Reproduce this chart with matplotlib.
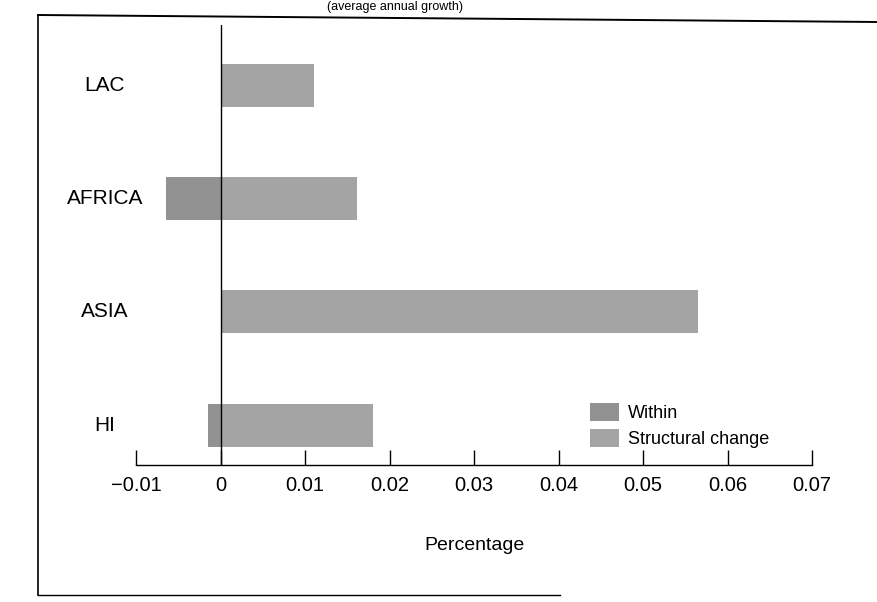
import numpy as np
import matplotlib
matplotlib.use("Agg")
import matplotlib.pyplot as plt
from matplotlib.lines import Line2D
from matplotlib.patches import Patch

plt.rcParams['font.family'] = ['Liberation Sans', 'DejaVu Sans']

# data (fractions, stacked horizontally)
regions = ['HI', 'ASIA', 'AFRICA', 'LAC']
within = [-0.0015, 0.0, -0.0064, 0.0]
structural = [0.0180, 0.0565, 0.0162, 0.0111]
xticks = [-0.01, 0, 0.01, 0.02, 0.03, 0.04, 0.05, 0.06, 0.07]
xticklabels = ['\u22120.01', '0', '0.01', '0.02', '0.03', '0.04', '0.05', '0.06', '0.07']

c_within = '#929292'
c_struct = '#a4a4a4'

fig = plt.figure(figsize=(8.78, 6.02), dpi=100)
ax = fig.add_axes([0.1549, 0.2276, 0.770, 0.7309])

y = np.arange(len(regions))
within = np.array(within)
structural = np.array(structural)
# negative parts go left of zero, positive parts stack to the right
w_pos = np.clip(within, 0, None)
ax.barh(y, within, height=0.38, color=c_within, edgecolor='none')
ax.barh(y, structural, left=w_pos, height=0.38, color=c_struct, edgecolor='none')

ax.axvline(0, color='black', lw=1.0)

ax.set_xlim(-0.01, 0.07)
ax.set_ylim(-0.35, 3.53)

for s in ['top', 'right', 'left']:
    ax.spines[s].set_visible(False)
ax.spines['bottom'].set_linewidth(1.0)

ax.set_xticks(xticks)
ax.set_xticklabels(xticklabels, fontsize=14.5)
ax.tick_params(axis='x', direction='in', length=11, width=1.0, pad=8)
ax.set_yticks(y)
ax.set_yticklabels([])
ax.tick_params(axis='y', length=0)
for yi, name in zip(y, regions):
    ax.text(-0.0137, yi, name, ha='center', va='center', fontsize=15)

ax.set_xlabel('Percentage', fontsize=14, labelpad=30)

handles = [Patch(facecolor=c_within, edgecolor='none', label='Within'),
           Patch(facecolor=c_struct, edgecolor='none', label='Structural change')]
fig.legend(handles=handles, loc='upper left', bbox_to_anchor=(0.654, 0.357),
           frameon=False, fontsize=13, handlelength=1.6, handleheight=1.1,
           handletextpad=0.5, labelspacing=0.4)

# outer frame of the scanned figure box
fig.add_artist(Line2D([38 / 878, 38 / 878], [1 - 15 / 602, 1 - 595 / 602],
                      transform=fig.transFigure, color='black', lw=1.2))
fig.add_artist(Line2D([38 / 878, 1.0], [1 - 15 / 602, 1 - 22 / 602],
                      transform=fig.transFigure, color='black', lw=1.4))
fig.add_artist(Line2D([38 / 878, 560 / 878], [1 - 595 / 602, 1 - 595 / 602],
                      transform=fig.transFigure, color='black', lw=1.0))

# caption at the very top of the scan
fig.text(0.45, 0.999, '(average annual growth)', ha='center', va='top',
         fontsize=9)

fig.savefig('out.png', dpi=100)
